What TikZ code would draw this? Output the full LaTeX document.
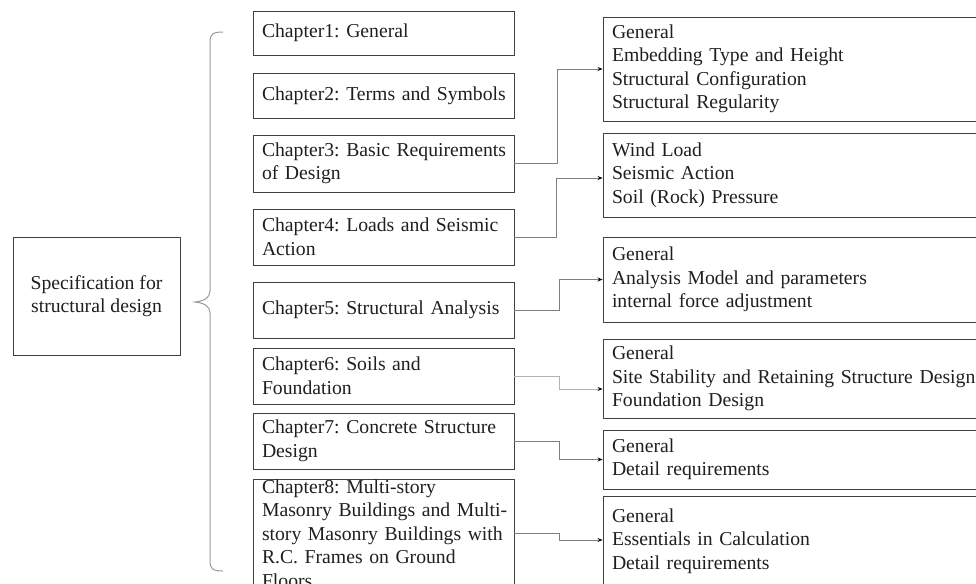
\documentclass[tikz,border=0pt]{standalone}
\usepackage{fontspec}
\setmainfont{Liberation Serif}
\usetikzlibrary{arrows.meta}
\newcommand\Lb[1]{\mbox{#1}}
\begin{document}
\frenchspacing
\begin{tikzpicture}[x=1pt,y=-1pt,
  every node/.style={font=\fontsize{19.7}{23.5}\selectfont\frenchspacing, text=black!88},
  box/.style={draw=black!75, line width=0.9pt, rectangle, inner ysep=0pt},
  chap/.style={box, minimum width=261pt, inner xsep=9pt, text width=243pt, align=left},
  chapc/.style={box, minimum width=261pt, inner xsep=9pt, text width=243pt, align=center},
  sub/.style={box, minimum width=387pt, inner xsep=9pt, text width=369pt, align=left},
  conn/.style={draw=black!50, line width=0.8pt, -{Stealth[length=5pt,width=4pt,black]}},
  bracepath/.style={draw=black!40, line width=1pt}
]
\useasboundingbox (0,0) rectangle (976,583);
\clip (0,0) rectangle (976,583);

% root box
\node[box, minimum width=167pt, minimum height=118pt, align=center] (root) at (96.5,296)
  {Specification for\\structural design};

% brace
\draw[bracepath] (223,32) .. controls (213,32) and (210,34) .. (210,42)
  -- (210,291) .. controls (210,298) and (204,301) .. (195,302)
  .. controls (204,303) and (210,306) .. (210,313)
  -- (210,561) .. controls (210,569) and (213,571) .. (223,571);

% chapter boxes
\node[chap,  minimum height=44pt] (ch1) at (383.5,33) {\Lb{Chapter1: General}};
\node[chapc, minimum height=45pt] (ch2) at (383.5,95.5) {\Lb{Chapter2: Terms and Symbols}};
\node[chap,  minimum height=57pt] (ch3) at (383.5,163.5) {\Lb{Chapter3: Basic Requirements}\\\Lb{of Design}};
\node[chap,  minimum height=56pt] (ch4) at (383.5,237) {\Lb{Chapter4: Loads and Seismic}\\\Lb{Action}};
\node[chap,  minimum height=56pt] (ch5) at (383.5,310) {\Lb{Chapter5: Structural Analysis}};
\node[chap,  minimum height=56pt] (ch6) at (383.5,376) {\Lb{Chapter6: Soils and}\\\Lb{Foundation}};
\node[chap,  minimum height=56pt] (ch7) at (383.5,441) {\Lb{Chapter7: Concrete Structure}\\\Lb{Design}};
\node[chap, anchor=north, inner ysep=0pt] (ch8) at (383.5,479)
  {\Lb{Chapter8: Multi-story}\\\Lb{Masonry Buildings and Multi-}\\\Lb{story Masonry Buildings with}\\\Lb{R.C. Frames on Ground}\\\Lb{Floors}};

% sub boxes
\node[sub, minimum height=104pt] (r1) at (796.5,69)
  {General\\Embedding Type and Height\\Structural Configuration\\Structural Regularity};
\node[sub, minimum height=84pt] (r2) at (796.5,175)
  {Wind Load\\Seismic Action\\Soil (Rock) Pressure};
\node[sub, minimum height=85pt] (r3) at (796.5,279.5)
  {General\\Analysis Model and parameters\\internal force adjustment};
\node[sub, minimum height=79pt] (r4) at (796.5,378.5)
  {General\\\Lb{Site Stability and Retaining Structure Design}\\Foundation Design};
\node[sub, minimum height=59pt] (r5) at (796.5,459.5)
  {General\\Detail requirements};
\node[sub, anchor=north, inner ysep=12pt] (r6) at (796.5,496)
  {General\\Essentials in Calculation\\Detail requirements};

% connectors
\draw[conn] (ch3.east) -- ++(43,0) |- (r1.west);
\draw[conn] (ch4.east) -- ++(42,0) |- ([yshift=-3pt]r2.west);
\draw[conn] (ch5.east) -- ++(45,0) |- (r3.west);
\draw[conn, draw=black!30] (ch6.east) -- ++(45,0) |- ([yshift=-10.5pt]r4.west);
\draw[conn] (ch7.east) -- ++(45,0) |- (r5.west);
\draw[conn] ([yshift=-54pt]ch8.north east) -- ++(45,0) |- ([yshift=-44pt]r6.north west);
\end{tikzpicture}
\end{document}
